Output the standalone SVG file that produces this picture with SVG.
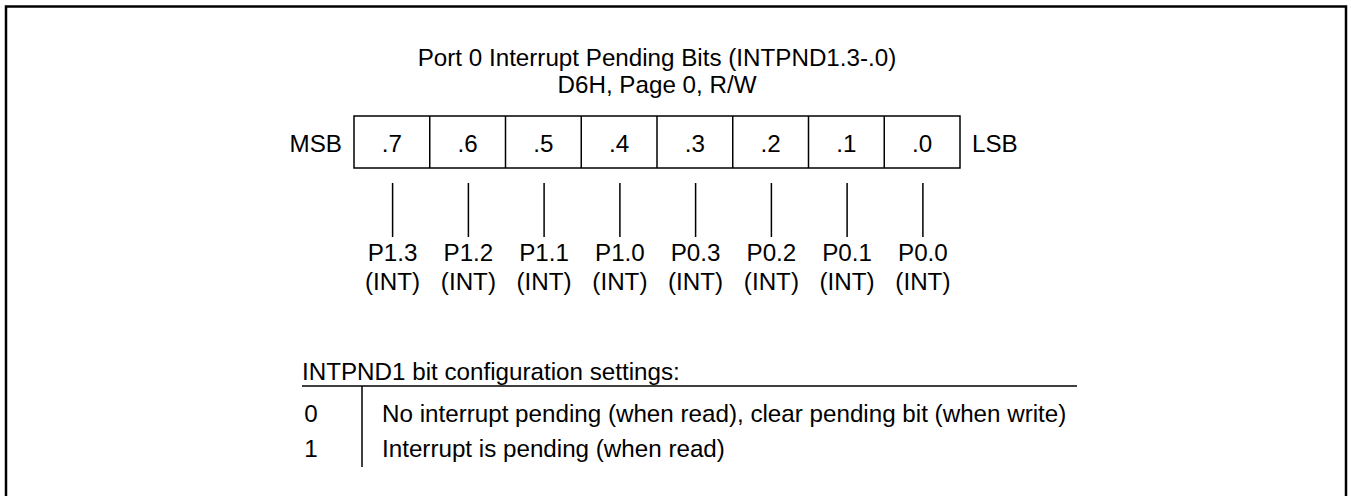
<svg xmlns="http://www.w3.org/2000/svg" width="1351" height="496" viewBox="0 0 1351 496">
<style>
text{font-family:"Liberation Sans",Arial,sans-serif;font-size:24.2px;fill:#000}
.m{text-anchor:middle}
.e{text-anchor:end}
.ln{stroke:#000;stroke-width:1.5;fill:none}
</style>
<rect x="0" y="0" width="1351" height="496" fill="#fff"/>
<rect id="frame" x="6" y="6.5" width="1340" height="520" fill="none" stroke="#000" stroke-width="2.5"/>
<g id="title">
<text class="m" x="657" y="66">Port 0 Interrupt Pending Bits (INTPND1.3-.0)</text>
<text class="m" x="657" y="93">D6H, Page 0, R/W</text>
</g>
<g id="register">
<text class="e" x="342" y="152">MSB</text>
<text x="972" y="152">LSB</text>
<rect class="ln" x="354" y="116" width="606" height="52"/>
<path class="ln" d="M429.75 116V168M505.5 116V168M581.25 116V168M657 116V168M732.75 116V168M808.5 116V168M884.25 116V168"/>
<text class="m" x="391.9" y="152">.7</text>
<text class="m" x="467.6" y="152">.6</text>
<text class="m" x="543.4" y="152">.5</text>
<text class="m" x="619.1" y="152">.4</text>
<text class="m" x="694.9" y="152">.3</text>
<text class="m" x="770.6" y="152">.2</text>
<text class="m" x="846.4" y="152">.1</text>
<text class="m" x="922.1" y="152">.0</text>
</g>
<g id="connectors">
<path class="ln" d="M392.6 183V237M468.4 183V237M544.1 183V237M619.9 183V237M695.6 183V237M771.4 183V237M847.1 183V237M922.9 183V237"/>
</g>
<g id="bit-labels">
<text class="m" x="392.6" y="261">P1.3</text><text class="m" x="392.6" y="290">(INT)</text>
<text class="m" x="468.4" y="261">P1.2</text><text class="m" x="468.4" y="290">(INT)</text>
<text class="m" x="544.1" y="261">P1.1</text><text class="m" x="544.1" y="290">(INT)</text>
<text class="m" x="619.9" y="261">P1.0</text><text class="m" x="619.9" y="290">(INT)</text>
<text class="m" x="695.6" y="261">P0.3</text><text class="m" x="695.6" y="290">(INT)</text>
<text class="m" x="771.4" y="261">P0.2</text><text class="m" x="771.4" y="290">(INT)</text>
<text class="m" x="847.1" y="261">P0.1</text><text class="m" x="847.1" y="290">(INT)</text>
<text class="m" x="922.9" y="261">P0.0</text><text class="m" x="922.9" y="290">(INT)</text>
</g>
<g id="settings">
<text x="302" y="380">INTPND1 bit configuration settings:</text>
<path class="ln" d="M302 386H1077M362 386V467"/>
<text class="m" x="311" y="422">0</text>
<text x="382" y="422">No interrupt pending (when read), clear pending bit (when write)</text>
<text class="m" x="311" y="457">1</text>
<text x="382" y="457">Interrupt is pending (when read)</text>
</g>
</svg>
